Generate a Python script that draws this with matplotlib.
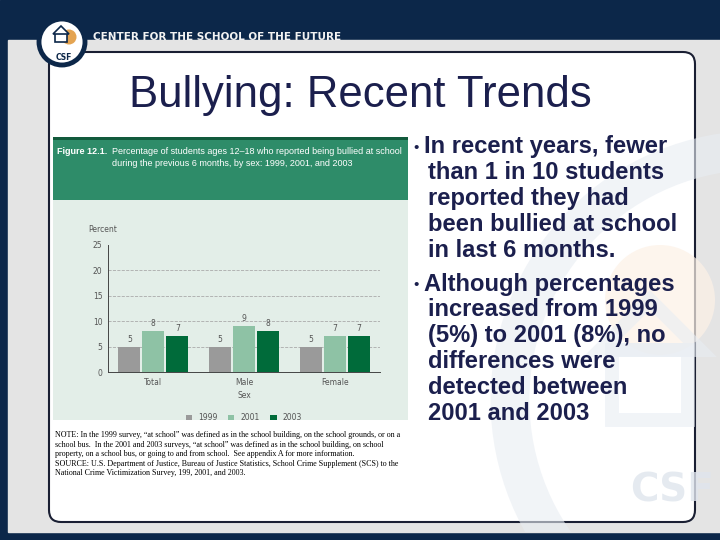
import matplotlib.pyplot as plt
from matplotlib.patches import FancyBboxPatch, Circle, Rectangle, Arc, Polygon

# chart data
groups = ["Total", "Male", "Female"]
years = ["1999", "2001", "2003"]
pct_1999 = [5, 5, 5]
pct_2001 = [8, 9, 7]
pct_2003 = [7, 8, 7]
yticks = [0, 5, 10, 15, 20, 25]

bar_colors = ["#9a9a9a", "#8ec2a5", "#006b3a"]
navy = "#0c2749"
text_navy = "#1b1f4d"

bullets = [
    ["In recent years, fewer", "than 1 in 10 students", "reported they had",
     "been bullied at school", "in last 6 months."],
    ["Although percentages", "increased from 1999", "(5%) to 2001 (8%), no",
     "differences were", "detected between", "2001 and 2003"],
]

note_lines = [
    "NOTE: In the 1999 survey, \u201cat school\u201d was defined as in the school building, on the school grounds, or on a",
    "school bus.  In the 2001 and 2003 surveys, \u201cat school\u201d was defined as in the school building, on school",
    "property, on a school bus, or going to and from school.  See appendix A for more information.",
    "SOURCE: U.S. Department of Justice, Bureau of Justice Statistics, School Crime Supplement (SCS) to the",
    "National Crime Victimization Survey, 199, 2001, and 2003.",
]

fig = plt.figure(figsize=(7.2, 5.4), dpi=100)
bg = fig.add_axes([0, 0, 1, 1])
bg.set_xlim(0, 720)
bg.set_ylim(540, 0)
bg.axis("off")

# slide background
bg.add_patch(Rectangle((0, 0), 720, 540, color=navy, zorder=0))
grey = Rectangle((8, 40), 712, 492, color="#e4e4e4", zorder=1)
bg.add_patch(grey)

# white content box
box = FancyBboxPatch((49, 52), 646, 470, boxstyle="round,pad=0,rounding_size=12",
                     facecolor="white", edgecolor="#1a1f33", lw=1.5, zorder=2)
bg.add_patch(box)

# faded watermark logo on the right
wm = [
    Circle((760, 400), 250, facecolor="none", edgecolor="#e8edf3", lw=28, alpha=0.6),
    Circle((660, 300), 55, facecolor="#fdf1e6", edgecolor="none", alpha=0.7),
    Polygon([(600, 350), (650, 300), (700, 350)], closed=True, facecolor="none",
            edgecolor="#e8edf3", lw=10, alpha=0.6),
    Rectangle((612, 350), 76, 70, facecolor="none", edgecolor="#e8edf3", lw=10, alpha=0.6),
    Arc((760, 640), 420, 300, theta1=95, theta2=180, color="#e8edf3", lw=22, alpha=0.6),
]
for p in wm:
    p.set_zorder(2.5)
    bg.add_patch(p)
    p.set_clip_path(grey)
bg.text(630, 490, "CSF", fontsize=28, fontweight="bold", color="#dfe5ed",
        ha="left", va="center", zorder=2.5, alpha=0.8)

# logo
ring = Circle((62, 42), 23, facecolor="white", edgecolor=navy, lw=3.5, zorder=5)
bg.add_patch(ring)
bg.add_patch(Circle((69, 37), 7.5, facecolor="#e4a452", edgecolor="none", zorder=5.5))
bg.add_patch(Rectangle((55, 33), 12, 9, facecolor="white", edgecolor=navy, lw=1.2, zorder=6))
bg.add_patch(Polygon([(53, 34), (61, 26), (69, 34)], closed=True, facecolor="white",
                     edgecolor=navy, lw=1.2, zorder=6))
for cx, cy in [(74, 60), (78, 66)]:
    a = Arc((cx, cy), 50, 24, theta1=110, theta2=175, color=navy, lw=2.2, zorder=6)
    bg.add_patch(a)
    a.set_clip_path(ring)
bg.text(64, 57, "CSF", fontsize=5.5, fontweight="bold", color=navy, ha="center",
        va="center", zorder=6)
bg.text(93, 37, "CENTER FOR THE SCHOOL OF THE FUTURE", fontsize=7.5, fontweight="bold",
        color="#f2f2f2", ha="left", va="center", zorder=6)

# title
bg.text(360, 95, "Bullying: Recent Trends", fontsize=31.5, color=text_navy,
        ha="center", va="center", family="Liberation Sans", zorder=6)

# figure panel
bg.add_patch(Rectangle((53, 137), 355, 283, facecolor="#e3eee8", edgecolor="none", zorder=3))
bg.add_patch(Rectangle((53, 140), 355, 60, facecolor="#2e8c69", edgecolor="none", zorder=3.1))
bg.add_patch(Rectangle((53, 137), 355, 3, facecolor="#125a3c", edgecolor="none", zorder=3.2))
bg.text(57, 152, "Figure 12.1.", fontsize=6.5, fontweight="bold", color="white",
        ha="left", va="center", family="Liberation Sans", zorder=4)
bg.text(112, 152, "Percentage of students ages 12\u201318 who reported being bullied at school",
        fontsize=6.5, color="white", ha="left", va="center", family="Liberation Sans", zorder=4)
bg.text(112, 164, "during the previous 6 months, by sex: 1999, 2001, and 2003",
        fontsize=6.5, color="white", ha="left", va="center", family="Liberation Sans", zorder=4)

# note text
for i, line in enumerate(note_lines):
    bg.text(55, 435 + i * 9.6, line, fontsize=5.8, family="Liberation Serif",
            color="black", ha="left", va="center", zorder=4)

# bullets
y = 147
for para in bullets:
    bg.text(413, y + 1, "\u2022", fontsize=11, color=text_navy, ha="left", va="center",
            family="Liberation Sans", zorder=6)
    for j, line in enumerate(para):
        bg.text(428 if j else 424, y, line, fontsize=17.1,
                fontweight="bold", color=text_navy, ha="left", va="center",
                family="Liberation Sans", zorder=6)
        y += 25.8
    y += 8

# bar chart
ax = fig.add_axes([108 / 720, (540 - 372) / 540, (380 - 108) / 720, (372 - 245) / 540])
ax.set_facecolor("none")
ax.set_zorder(5)
xs = range(len(groups))
width = 0.24
offset = 0.265
for k, (vals, col) in enumerate(zip([pct_1999, pct_2001, pct_2003], bar_colors)):
    pos = [x + (k - 1) * offset for x in xs]
    bars = ax.bar(pos, vals, width=width, color=col, label=years[k], zorder=3)
    for b, v in zip(bars, vals):
        ax.text(b.get_x() + b.get_width() / 2, v + 0.6, str(v), fontsize=5.5,
                color="#555555", ha="center", va="bottom")
ax.set_xlim(-0.5, 2.5)
ax.set_ylim(0, 25)
ax.set_yticks(yticks)
ax.set_xticks(list(xs))
ax.set_xticklabels(groups)
ax.tick_params(labelsize=5.5, colors="#555555", length=0, pad=4)
for t in yticks[1:-1]:
    ax.axhline(t, color="#aaaaaa", ls="--", lw=0.6, zorder=1)
for s in ["top", "right"]:
    ax.spines[s].set_visible(False)
for s in ["left", "bottom"]:
    ax.spines[s].set_color("#444444")
    ax.spines[s].set_linewidth(0.7)
ax.set_xlabel("Sex", fontsize=5.5, color="#555555", labelpad=3)
bg.text(88, 229, "Percent", fontsize=5.5, color="#555555", ha="left", va="center", zorder=6)
ax.legend(loc="upper center", bbox_to_anchor=(0.5, -0.27), ncol=3, frameon=False,
          fontsize=5.5, handlelength=0.8, handleheight=0.8, columnspacing=1.4,
          labelcolor="#555555")

fig.savefig("out.png", dpi=100)
